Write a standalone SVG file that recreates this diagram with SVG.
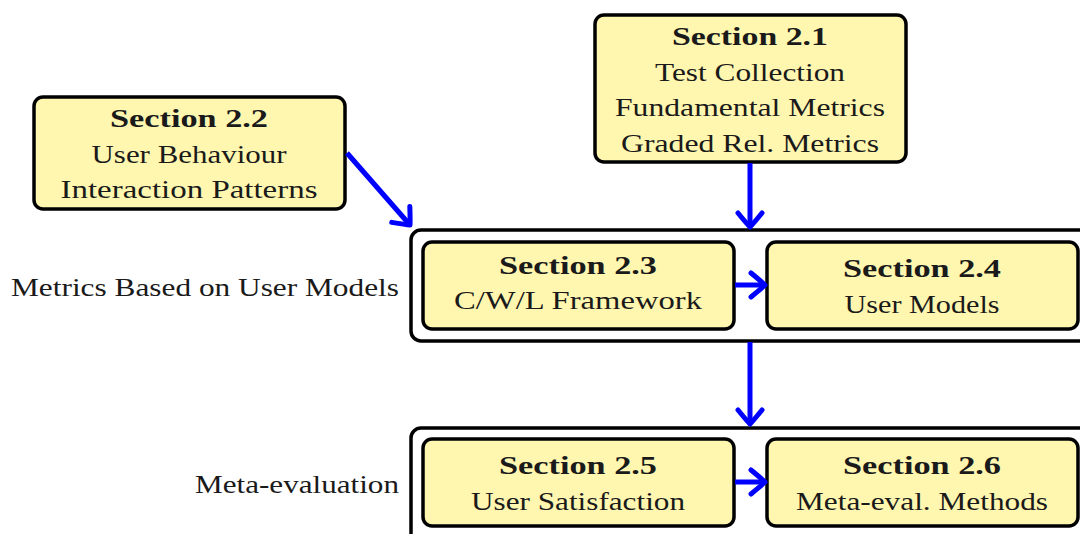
<svg xmlns="http://www.w3.org/2000/svg" width="1080" height="534" viewBox="0 0 1080 534">
<style>
.node{fill:#fff6b0;stroke:#000;stroke-width:3.5}
.grp{fill:#fff;stroke:#000;stroke-width:3.5}
text{font-family:"Liberation Serif","DejaVu Serif",serif;font-size:26px;fill:#1a1a1a;text-anchor:middle}
.b{font-weight:bold}
.lab{text-anchor:end}
.conn{stroke:#0000ff;stroke-width:5;fill:none}
</style>
<defs>
<marker id="arr" viewBox="-20 -16 24 32" refX="0" refY="0" markerWidth="24" markerHeight="32" markerUnits="userSpaceOnUse" orient="auto" overflow="visible">
<path d="M -14,-12 Q -3,-3 0,0 Q -3,3 -14,12" fill="none" stroke="#0000ff" stroke-width="5" stroke-linecap="round" stroke-linejoin="round"/>
</marker>
</defs>
<rect width="1080" height="534" fill="#fff"/>
<g id="group-metrics">
<rect class="grp" x="411" y="230" width="700" height="111" rx="10"/>
<text class="lab" x="399" y="296" textLength="388" lengthAdjust="spacingAndGlyphs">Metrics Based on User Models</text>
</g>
<g id="group-meta">
<rect class="grp" x="411" y="428" width="700" height="130" rx="10"/>
<text class="lab" x="399" y="493" textLength="204" lengthAdjust="spacingAndGlyphs">Meta-evaluation</text>
</g>
<g id="node-2-1">
<rect class="node" x="595" y="15" width="311" height="147" rx="9"/>
<text class="b" x="750" y="45" textLength="156" lengthAdjust="spacingAndGlyphs">Section 2.1</text>
<text x="750" y="81" textLength="190" lengthAdjust="spacingAndGlyphs">Test Collection</text>
<text x="750" y="116" textLength="270" lengthAdjust="spacingAndGlyphs">Fundamental Metrics</text>
<text x="750" y="152" textLength="258" lengthAdjust="spacingAndGlyphs">Graded Rel. Metrics</text>
</g>
<g id="node-2-2">
<rect class="node" x="34" y="97" width="311" height="112" rx="9"/>
<text class="b" x="189" y="127" textLength="158" lengthAdjust="spacingAndGlyphs">Section 2.2</text>
<text x="189" y="163" textLength="195" lengthAdjust="spacingAndGlyphs">User Behaviour</text>
<text x="189" y="198" textLength="257" lengthAdjust="spacingAndGlyphs">Interaction Patterns</text>
</g>
<g id="node-2-3">
<rect class="node" x="423" y="242" width="311" height="87" rx="9"/>
<text class="b" x="578" y="274" textLength="158" lengthAdjust="spacingAndGlyphs">Section 2.3</text>
<text x="578" y="309" textLength="248" lengthAdjust="spacingAndGlyphs">C/W/L Framework</text>
</g>
<g id="node-2-4">
<rect class="node" x="767" y="242" width="311" height="87" rx="9"/>
<text class="b" x="922" y="277" textLength="158" lengthAdjust="spacingAndGlyphs">Section 2.4</text>
<text x="922" y="313" textLength="155" lengthAdjust="spacingAndGlyphs">User Models</text>
</g>
<g id="node-2-5">
<rect class="node" x="423" y="439" width="311" height="87" rx="9"/>
<text class="b" x="578" y="474" textLength="158" lengthAdjust="spacingAndGlyphs">Section 2.5</text>
<text x="578" y="510" textLength="214" lengthAdjust="spacingAndGlyphs">User Satisfaction</text>
</g>
<g id="node-2-6">
<rect class="node" x="767" y="439" width="311" height="87" rx="9"/>
<text class="b" x="922" y="474" textLength="158" lengthAdjust="spacingAndGlyphs">Section 2.6</text>
<text x="922" y="510" textLength="252" lengthAdjust="spacingAndGlyphs">Meta-eval. Methods</text>
</g>
<g id="connectors">
<line class="conn" x1="750" y1="163" x2="750" y2="227" marker-end="url(#arr)"/>
<line class="conn" x1="347" y1="153" x2="410" y2="225" marker-end="url(#arr)"/>
<line class="conn" x1="750" y1="342" x2="750" y2="424" marker-end="url(#arr)"/>
<line class="conn" x1="735" y1="285" x2="765" y2="285" marker-end="url(#arr)"/>
<line class="conn" x1="735" y1="482" x2="765" y2="482" marker-end="url(#arr)"/>
</g>
</svg>
